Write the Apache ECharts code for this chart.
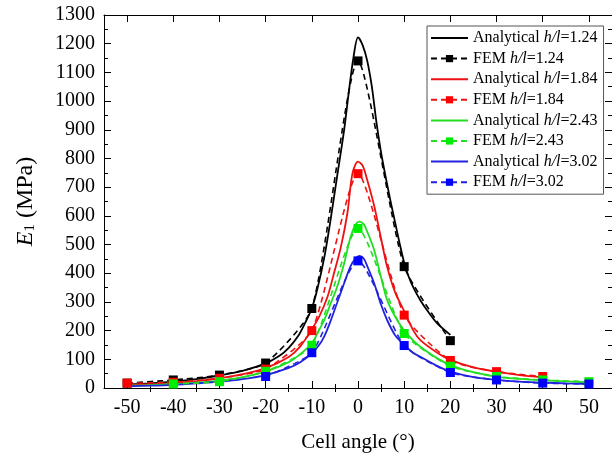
<!DOCTYPE html>
<html>
<head>
<meta charset="utf-8">
<script src="https://cdn.jsdelivr.net/npm/echarts@6/dist/echarts.min.js"></script>
<style>
  html, body { margin: 0; padding: 0; background: #ffffff; }
  #chart { width: 612px; height: 458px; }
</style>
</head>
<body>
<div id="chart"></div>
<script>
// Tick positions on the cell-angle axis
const angleTicks = [-50, -40, -30, -20, -10, 0, 10, 20, 30, 40, 50];
const angleMinorTicks = [-45, -35, -25, -15, -5, 5, 15, 25, 35, 45];

// Analytical modulus curves E1 (MPa) versus cell angle (deg)
const anaAngles124 = [-50, -45, -40, -35, -30, -25, -20, -17, -15, -13, -11.5, -10, -8.8, -7.3, -6, -4.5, -3, -2, -1, 0, 1, 2, 3, 4, 5, 6, 7, 8, 9, 10, 11, 12, 13.5, 15, 17, 20];
const anaE124 = [12, 16, 22, 31, 44, 60, 86, 112, 140, 180, 225, 278, 345, 455, 580, 740, 900, 1030, 1150, 1222, 1195, 1140, 1050, 925, 820, 735, 655, 580, 505, 437, 387, 350, 306, 270, 228, 185];

const anaAngles184 = [-50, -45, -40, -35, -30, -25, -20, -15, -12.5, -10, -8.4, -6.6, -5.2, -3.7, -2.3, -1.2, 0, 1, 2, 3.5, 5, 6.3, 8, 10, 12, 13.5, 17, 20, 25, 30, 35, 40];
const anaE184 = [10, 13, 17, 24, 34, 48, 69, 108, 145, 205, 249, 318, 400, 492, 609, 748, 789, 775, 725, 635, 520, 423, 335, 268, 200, 167, 125, 98, 72, 57, 45, 37];

const anaAngles243 = [-50, -45, -40, -35, -30, -25, -20, -15, -12.5, -10, -8.5, -7.3, -5.9, -4.5, -3, -1.6, -0.5, 0.3, 1.2, 2, 3.5, 5, 6.3, 8, 10, 12, 13.5, 17, 20, 25, 30, 35, 40, 45, 50];
const anaE243 = [8, 10, 14, 19, 26, 38, 57, 90, 118, 156, 200, 237, 295, 353, 435, 527, 570, 580, 572, 545, 481, 385, 307, 250, 200, 165, 144, 105, 80, 55, 39, 32, 27, 23, 20];

const anaAngles302 = [-50, -45, -40, -35, -30, -25, -20, -15, -12.5, -10, -8.5, -7.3, -5.9, -4.5, -3, -1.6, -0.5, 0.3, 1.2, 2, 3.5, 5, 6.3, 8, 10, 12, 13.5, 17, 20, 25, 30, 35, 40, 45, 50];
const anaE302 = [6, 8, 11, 16, 22, 31, 45, 70, 90, 121, 148, 180, 235, 298, 365, 425, 452, 460, 452, 425, 365, 290, 237, 185, 150, 122, 109, 78, 57, 38, 28, 22, 19, 16, 14];

// FEM results, one value per angle in femAngles (null = not computed)
const femAngles = [-50, -40, -30, -20, -10, 0, 10, 20, 30, 40, 50];
const fem124 = [17, 28, 45, 87, 277, 1140, 423, 165, null, null, null];
const fem184 = [17, 20, 34, 66, 200, 747, 254, 96, 57, 40, null];
const fem243 = [null, 14, 22, 58, 149, 556, 190, 76, 40, 28, 22];
const fem302 = [null, null, null, 40, 123, 443, 148, 54, 28, 17, 14];

const ratios = ['1.24', '1.84', '2.43', '3.02'];
const colors = ['#000000', '#ee1111', '#22dd22', '#2222dd'];
const fillColors = ['#000000', '#ff0000', '#00ee00', '#0000ff'];

const SERIF = '"Liberation Serif", "Times New Roman", "DejaVu Serif", serif';

function pairs(xs, ys) {
  const out = [];
  for (let i = 0; i < xs.length; i++) {
    if (ys[i] !== null) out.push([xs[i], ys[i]]);
  }
  return out;
}

const anaSets = [
  [anaAngles124, anaE124],
  [anaAngles184, anaE184],
  [anaAngles243, anaE243],
  [anaAngles302, anaE302]
];
const femSets = [fem124, fem184, fem243, fem302];

const series = [];
const legendItems = [];
ratios.forEach((r, i) => {
  const anaName = 'Analytical h/l=' + r;
  const femName = 'FEM h/l=' + r;
  series.push({
    name: anaName,
    type: 'line',
    xAxisIndex: 0,
    yAxisIndex: 0,
    data: pairs(anaSets[i][0], anaSets[i][1]),
    smooth: 0.3,
    symbol: 'none',
    lineStyle: { color: colors[i], width: 1.8 },
    itemStyle: { color: colors[i] },
    z: 2
  });
  series.push({
    name: femName,
    type: 'line',
    xAxisIndex: 0,
    yAxisIndex: 0,
    data: pairs(femAngles, femSets[i]),
    smooth: 0.2,
    symbol: 'rect',
    symbolSize: 9,
    showAllSymbol: true,
    lineStyle: { color: colors[i], width: 1.6, type: [6, 4] },
    itemStyle: { color: fillColors[i] },
    z: 3
  });
  // the analytical entries show only their line in the legend
  legendItems.push({ name: anaName, itemStyle: { opacity: 0 } });
  legendItems.push({ name: femName });
});

const axisLine = { show: true, onZero: false, lineStyle: { color: '#000', width: 1 } };
const labelStyle = { fontFamily: SERIF, fontSize: 20, color: '#000' };

const option = {
  backgroundColor: '#ffffff',
  animation: false,
  grid: { left: 104, top: 15, width: 510, height: 373, containLabel: false },
  legend: {
    orient: 'vertical',
    left: 427,
    top: 26,
    padding: [4, 6, 4, 3],
    itemWidth: 37,
    itemHeight: 9,
    itemGap: 4.6,
    backgroundColor: '#ffffff',
    borderColor: '#555555',
    borderWidth: 1,
    borderRadius: 0,
    selectedMode: false,
    textStyle: {
      fontFamily: SERIF, fontSize: 16, lineHeight: 16, color: '#000',
      rich: { i: { fontFamily: SERIF, fontSize: 16, lineHeight: 16, fontStyle: 'italic', color: '#000' } }
    },
    formatter: name => name.replace('h/l', '{i|h/l}'),
    data: legendItems
  },
  xAxis: [
    {
      type: 'value', min: -55, max: 55, position: 'bottom',
      axisLine: axisLine,
      splitLine: { show: false },
      axisTick: { show: true, inside: true, length: 7, customValues: angleTicks, lineStyle: { color: '#000' } },
      axisLabel: Object.assign({ customValues: angleTicks, margin: 10 }, labelStyle),
      name: 'Cell angle (°)',
      nameLocation: 'middle',
      nameGap: 44,
      nameTextStyle: { fontFamily: SERIF, fontSize: 21, color: '#000' }
    },
    {
      type: 'value', min: -55, max: 55, position: 'top',
      axisLine: axisLine,
      splitLine: { show: false },
      axisTick: { show: true, inside: true, length: 7, customValues: angleTicks, lineStyle: { color: '#000' } },
      axisLabel: { show: false }
    },
    {
      type: 'value', min: -55, max: 55, position: 'bottom',
      axisLine: { show: false },
      splitLine: { show: false },
      axisTick: { show: true, inside: true, length: 4, customValues: angleMinorTicks, lineStyle: { color: '#000' } },
      axisLabel: { show: false }
    },
    {
      type: 'value', min: -55, max: 55, position: 'top',
      axisLine: { show: false },
      splitLine: { show: false },
      axisTick: { show: true, inside: true, length: 4, customValues: angleMinorTicks, lineStyle: { color: '#000' } },
      axisLabel: { show: false }
    }
  ],
  yAxis: [
    {
      type: 'value', min: 0, max: 1300, interval: 100, position: 'left',
      axisLine: axisLine,
      splitLine: { show: false },
      axisTick: { show: true, inside: true, length: 7, lineStyle: { color: '#000' } },
      minorTick: { show: true, splitNumber: 2, length: 4, lineStyle: { color: '#000' } },
      axisLabel: Object.assign({ margin: 9, formatter: v => String(v) }, labelStyle),
      name: '{e|E}{s|1}{n| (MPa)}',
      nameLocation: 'middle',
      nameGap: 66,
      nameTextStyle: {
        fontFamily: SERIF, fontSize: 24, color: '#000',
        rich: {
          e: { fontFamily: SERIF, fontSize: 24, fontStyle: 'italic', color: '#000', verticalAlign: 'bottom', lineHeight: 28 },
          s: { fontFamily: SERIF, fontSize: 15, color: '#000', verticalAlign: 'bottom', lineHeight: 17 },
          n: { fontFamily: SERIF, fontSize: 24, color: '#000', verticalAlign: 'bottom', lineHeight: 28 }
        }
      }
    },
    {
      type: 'value', min: 0, max: 1300, interval: 100, position: 'right',
      axisLine: axisLine,
      splitLine: { show: false },
      axisTick: { show: true, inside: true, length: 7, lineStyle: { color: '#000' } },
      minorTick: { show: true, splitNumber: 2, length: 4, lineStyle: { color: '#000' } },
      axisLabel: { show: false }
    }
  ],
  series: series
};

const chart = echarts.init(document.getElementById('chart'), null, { renderer: 'canvas' });
chart.setOption(option);
</script>
</body>
</html>
